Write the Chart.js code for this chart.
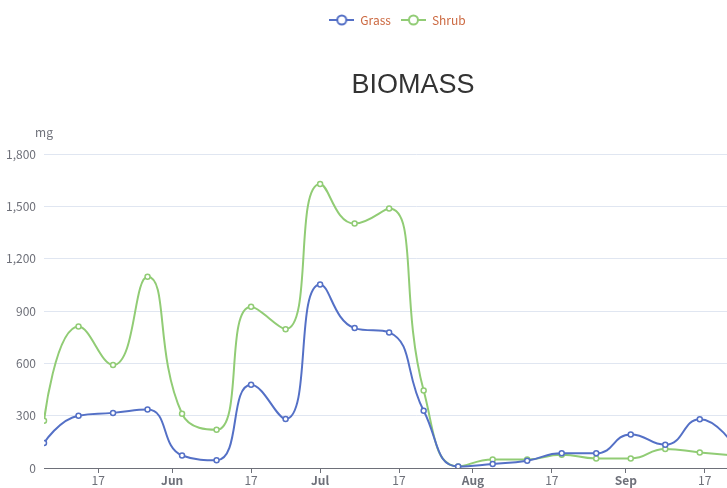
<!DOCTYPE html>
<html>
<head>
<meta charset="utf-8">
<script src="https://cdn.jsdelivr.net/npm/chart.js@4.4.0/dist/chart.umd.min.js"></script>
<style>
  html, body { margin: 0; padding: 0; overflow: hidden; background: #fff; }
</style>
</head>
<body>
<canvas id="myChart" width="795" height="488"></canvas>
<script>
// weekly sampling dates
const dates = ['2019-05-06', '2019-05-13', '2019-05-20', '2019-05-27', '2019-06-03', '2019-06-10',
  '2019-06-17', '2019-06-24', '2019-07-01', '2019-07-08', '2019-07-15', '2019-07-22', '2019-07-29',
  '2019-08-05', '2019-08-12', '2019-08-19', '2019-08-26', '2019-09-02', '2019-09-09', '2019-09-16',
  '2019-09-23'];
const grass = [143, 300, 316, 335, 72, 44, 477, 281, 1052, 802, 777, 328, 9, 23, 42, 84, 84, 192, 133, 280, 125];
const shrub = [271, 811, 590, 1096, 311, 219, 924, 796, 1628, 1401, 1487, 444, 9, 49, 49, 76, 55, 55, 109, 89, 72];

const tickDates = ['2019-05-17', '2019-06-01', '2019-06-17', '2019-07-01', '2019-07-17',
  '2019-08-01', '2019-08-17', '2019-09-01', '2019-09-17'];
const tickLabels = ['17', 'Jun', '17', 'Jul', '17', 'Aug', '17', 'Sep', '17'];
const yTicks = [0, 300, 600, 900, 1200, 1500, 1800];

const seriesNames = ['Grass', 'Shrub'];
const colors = ['#5470c6', '#91cc75'];
const uiFont = '"Noto Sans CJK SC", "Noto Sans", sans-serif';

// day number counted from May 1st
function day(s) {
  return (Date.parse(s) - Date.parse('2019-05-01')) / 86400000;
}

// legend icon like echarts: line with an empty circle
function makeIcon(color) {
  const c = document.createElement('canvas');
  c.width = 25; c.height = 12;
  const g = c.getContext('2d');
  g.strokeStyle = color;
  g.lineWidth = 2;
  g.beginPath(); g.moveTo(0, 6); g.lineTo(25, 6); g.stroke();
  g.beginPath(); g.arc(12.5, 6, 4.5, 0, Math.PI * 2);
  g.fillStyle = '#fff'; g.fill(); g.stroke();
  return c;
}
const icons = colors.map(makeIcon);

// smoothing that never overshoots the points (same idea as echarts smooth:true)
function smoothPoints(pts, smooth) {
  const n = pts.length;
  pts[0].cp2x = pts[0].x; pts[0].cp2y = pts[0].y;
  pts[n - 1].cp1x = pts[n - 1].x; pts[n - 1].cp1y = pts[n - 1].y;
  for (let i = 1; i < n - 1; i++) {
    const p = pts[i], a = pts[i - 1], b = pts[i + 1];
    const lenPrev = Math.hypot(p.x - a.x, p.y - a.y);
    const lenNext = Math.hypot(b.x - p.x, b.y - p.y);
    const ratio = lenNext / (lenNext + lenPrev);
    let vx = b.x - a.x, vy = b.y - a.y;
    let nx = p.x + vx * smooth * ratio;
    let ny = p.y + vy * smooth * ratio;
    nx = Math.max(Math.min(nx, Math.max(b.x, p.x)), Math.min(b.x, p.x));
    ny = Math.max(Math.min(ny, Math.max(b.y, p.y)), Math.min(b.y, p.y));
    vx = nx - p.x; vy = ny - p.y;
    let cx = p.x - vx * lenPrev / lenNext;
    let cy = p.y - vy * lenPrev / lenNext;
    cx = Math.max(Math.min(cx, Math.max(a.x, p.x)), Math.min(a.x, p.x));
    cy = Math.max(Math.min(cy, Math.max(a.y, p.y)), Math.min(a.y, p.y));
    vx = p.x - cx; vy = p.y - cy;
    p.cp1x = cx; p.cp1y = cy;
    p.cp2x = p.x + vx * lenNext / lenPrev;
    p.cp2y = p.y + vy * lenNext / lenPrev;
  }
}

const extras = {
  id: 'extras',
  beforeLayout(chart) {
    const lg = chart.legend;
    if (lg && !lg._wrapped) {
      const fit = lg.fit.bind(lg);
      lg.fit = function () { fit(); this.height = 150; };
      lg._wrapped = true;
    }
  },
  beforeDatasetsDraw(chart) {
    chart.data.datasets.forEach((ds, i) => {
      const meta = chart.getDatasetMeta(i);
      meta.dataset.updateControlPoints(chart.chartArea, 'x');
      smoothPoints(meta.data, 0.5);
    });
  },
  afterDraw(chart) {
    const ctx = chart.ctx;
    ctx.save();
    ctx.fillStyle = '#333';
    ctx.font = '27px "Liberation Sans", Arial, sans-serif';
    ctx.textAlign = 'center';
    ctx.textBaseline = 'alphabetic';
    ctx.fillText('BIOMASS', 413, 93);
    ctx.fillStyle = '#6e7079';
    ctx.font = '12px ' + uiFont;
    ctx.fillText('mg', chart.chartArea.left, 137);
    ctx.restore();
  }
};

function createChart() {
  const ctx = document.getElementById('myChart').getContext('2d');
  const xs = dates.map(day);
  const monthTicks = tickLabels.map(t => isNaN(Number(t)));

  const chart = new Chart(ctx, {
    type: 'line',
    data: {
      datasets: [grass, shrub].map((vals, i) => ({
        label: seriesNames[i],
        data: vals.map((v, j) => ({ x: xs[j], y: v })),
        borderColor: colors[i],
        backgroundColor: colors[i],
        borderWidth: 2,
        tension: 0.5,
        pointRadius: 2.5,
        pointBorderWidth: 1.5,
        pointBackgroundColor: '#fff',
        pointBorderColor: colors[i],
        fill: false
      }))
    },
    options: {
      responsive: false,
      animation: false,
      locale: 'en-US',
      layout: { padding: { left: 0, right: 0, top: 4, bottom: 0 } },
      scales: {
        x: {
          type: 'linear',
          min: day('2019-05-06'),
          max: 156.2,
          afterBuildTicks(scale) {
            scale.ticks = tickDates.map(d => ({ value: day(d) }));
          },
          afterFit(scale) { scale.height = 20; },
          ticks: {
            autoSkip: false,
            maxRotation: 0,
            padding: 0,
            color: '#6e7079',
            font: c => ({ size: 12, family: uiFont, weight: monthTicks[c.index] ? 'bold' : 'normal' }),
            callback: (v, i) => tickLabels[i]
          },
          grid: { drawOnChartArea: false, drawTicks: true, tickLength: 5, color: '#6e7079' },
          border: { color: '#6e7079', width: 1 }
        },
        y: {
          min: 0,
          max: 1800,
          afterBuildTicks(scale) {
            scale.ticks = yTicks.map(v => ({ value: v }));
          },
          afterFit(scale) { scale.width = 44; },
          ticks: { color: '#6e7079', padding: 8, font: { size: 12, family: uiFont } },
          grid: { color: '#e0e6f1', drawTicks: false },
          border: { display: false }
        }
      },
      plugins: {
        legend: {
          position: 'top',
          labels: {
            usePointStyle: true,
            pointStyleWidth: 25,
            boxHeight: 12,
            padding: 10,
            color: '#cc6a42',
            font: { size: 12, family: uiFont },
            generateLabels: ch => ch.data.datasets.map((ds, i) => ({
              text: ds.label,
              pointStyle: icons[i],
              fontColor: '#cc6a42',
              fillStyle: 'transparent',
              strokeStyle: 'transparent',
              lineWidth: 0,
              hidden: false,
              datasetIndex: i
            }))
          }
        },
        title: { display: false },
        tooltip: { enabled: false }
      }
    },
    plugins: [extras]
  });
  return chart;
}

createChart();
</script>
</body>
</html>
